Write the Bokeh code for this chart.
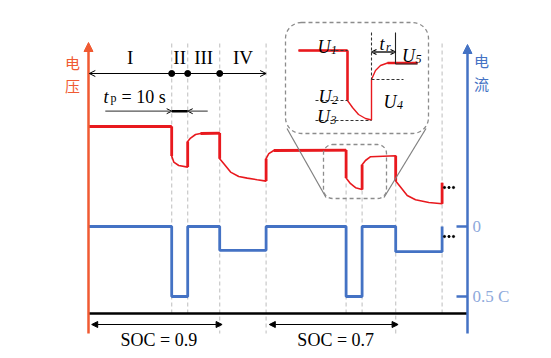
from bokeh.plotting import figure
from bokeh.models import (Range1d, Arrow, NormalHead, OpenHead, Label, BoxAnnotation)
from bokeh.embed import file_html
from bokeh.resources import INLINE

# ---------------- data ----------------
# phase boundaries (s): I, II, III, IV for SOC 0.9 then SOC 0.7
phase_edges = [0, 52, 62, 82, 111, 161, 171, 192, 221]
phase_names = ["I", "II", "III", "IV"]
soc_labels = ["SOC = 0.9", "SOC = 0.7"]

# current (C-rate, discharge plotted downward)
cur_t = [0, 52, 52, 62, 62, 82, 82, 111, 111, 161, 161, 171, 171, 192, 192, 221, 221]
cur_c = [0, 0, -0.5, -0.5, 0, 0, -0.17, -0.17, 0, 0, -0.5, -0.5, 0, 0, -0.18, -0.18, 0]
cur_ticks = [0, -0.5]
cur_tick_labels = ["0", "0.5 C"]

# voltage (V, schematic)
volt_t = [0, 52, 52, 53.3, 56.4, 62, 62, 63.8, 66.9, 70, 82,
          82, 84.6, 88.8, 93.9, 99.2, 105.4, 111,
          111, 112.7, 115.8, 161, 161, 163.8, 166.9, 171,
          171, 173.1, 176.3, 192, 192, 195, 199.2, 204.4, 212.7, 221, 221]
volt_v = [4.100, 4.100, 3.952, 3.922, 3.905, 3.897, 4.025, 4.042, 4.060, 4.065, 4.067,
          3.939, 3.914, 3.872, 3.850, 3.842, 3.834, 3.827,
          3.939, 3.964, 3.980, 3.982, 3.842, 3.814, 3.794, 3.785,
          3.909, 3.930, 3.949, 3.954, 3.827, 3.797, 3.755, 3.734, 3.720, 3.714, 3.819]

# inset (magnified pulse), inset-local coordinates
inset_x = [298, 347, 347, 352, 358, 365, 371, 371, 375, 380, 387, 417]
inset_y = [50, 50, 100, 107, 114, 118, 119.5, 79, 70, 65, 62.5, 62.5]

# ---------------- styles ----------------
RED = "#E8191E"
RED_AX = "#F05A32"
BLUE = "#4472C4"
LBLUE = "#8EA9DB"
GREY = "#C8C8C8"
DGREY = "#808080"
SERIF = "Liberation Serif"
CJK = "Noto Sans CJK SC"

PX_PER_T = 1.6
T0_PX = 88                      # where t = 0 sits
FRAME_L, FRAME_R = 56, 535
V_REF, V_PX, PX_PER_V = 4.10, 126, 200
C_PX, PX_PER_C = 226, 140
TOP, BOT = 8, 350

p = figure(width=545, height=352, output_backend="svg", toolbar_location=None,
           x_range=Range1d((FRAME_L - T0_PX) / PX_PER_T, (FRAME_R - T0_PX) / PX_PER_T),
           y_range=Range1d(V_REF - (BOT - V_PX) / PX_PER_V, V_REF + (V_PX - TOP) / PX_PER_V),
           x_axis_type=None, y_axis_type=None,
           min_border_left=FRAME_L, min_border_right=545 - FRAME_R, min_border_top=TOP,
           min_border_bottom=352 - BOT,
           outline_line_color=None, background_fill_color="white", border_fill_color="white")
p.extra_y_ranges = {"cur": Range1d(-(BOT - C_PX) / PX_PER_C, (C_PX - TOP) / PX_PER_C),
                    "py": Range1d(BOT, TOP)}
p.extra_x_ranges = {"px": Range1d(FRAME_L, FRAME_R)}

# ---- phase dashed lines ----
line_tops = [43, 43, 43, 43, 183, 190, 182, 43]
line_bots = [313, 313, 333, 333, 313, 313, 333, 313]
p.segment(x0=phase_edges[1:], y0=line_tops, x1=phase_edges[1:], y1=line_bots,
          y_range_name="py", line_color=GREY, line_width=1.2, line_dash="4 3")

# ---- bottom time line ----
p.segment(x0=[88], y0=[313], x1=[467], y1=[313], x_range_name="px", y_range_name="py",
          line_color="black", line_width=2.5)

# ---- voltage trace ----
p.line(volt_t, volt_v, line_color=RED, line_width=1.6)
tx0, ty0, tx1, ty1 = [], [], [], []
for i in range(len(volt_t) - 1):
    if volt_t[i] == volt_t[i + 1] or abs(volt_v[i] - volt_v[i + 1]) < 0.004:
        tx0.append(volt_t[i]); ty0.append(volt_v[i]); tx1.append(volt_t[i + 1]); ty1.append(volt_v[i + 1])
p.segment(x0=tx0, y0=ty0, x1=tx1, y1=ty1, line_color=RED, line_width=2.8)

# ---- current trace ----
p.line(cur_t, cur_c, y_range_name="cur", line_color=BLUE, line_width=2.8)

# continuation dots
p.scatter(x=[444, 448.5, 453] * 2, y=[187] * 3 + [236] * 3, x_range_name="px", y_range_name="py",
          size=2.2, color="black")

# ---- voltage axis (left) ----
p.add_layout(Arrow(end=NormalHead(size=9, fill_color=RED_AX, line_color=RED_AX),
                   x_start=88, y_start=333, x_end=88, y_end=42, x_range_name="px", y_range_name="py",
                   line_color=RED_AX, line_width=2.5))
for txt, y in [("电", 62), ("压", 84.5)]:
    p.add_layout(Label(x=72, y=y, text=txt, x_range_name="px", y_range_name="py",
                       text_align="center", text_baseline="middle", text_font=CJK,
                       text_font_size="15px", text_color=RED_AX))

# ---- current axis (right) ----
p.add_layout(Arrow(end=NormalHead(size=9, fill_color=BLUE, line_color=BLUE),
                   x_start=467, y_start=333, x_end=467, y_end=44, x_range_name="px", y_range_name="py",
                   line_color=BLUE, line_width=2.5))
p.segment(x0=[456] * len(cur_ticks), y0=cur_ticks, x1=[467] * len(cur_ticks), y1=cur_ticks,
          x_range_name="px", y_range_name="cur", line_color=BLUE, line_width=2.5)
for tick, lab in zip(cur_ticks, cur_tick_labels):
    p.add_layout(Label(x=472, y=tick, text=lab, x_range_name="px", y_range_name="cur",
                       text_align="left", text_baseline="middle", text_font=SERIF,
                       text_font_size="17px", text_color=LBLUE))
for txt, y in [("电", 60), ("流", 83)]:
    p.add_layout(Label(x=481, y=y, text=txt, x_range_name="px", y_range_name="py",
                       text_align="center", text_baseline="middle", text_font=CJK,
                       text_font_size="15px", text_color=BLUE))

# ---- phase arrow & labels ----
p.add_layout(Arrow(start=OpenHead(size=6, line_width=1), end=OpenHead(size=6, line_width=1),
                   x_start=phase_edges[0] + 0.5, x_end=phase_edges[4], y_start=73, y_end=73,
                   y_range_name="py", line_color="black", line_width=1.2))
p.scatter(x=phase_edges[1:4], y=[73] * 3, y_range_name="py", size=6, color="black")
for i, name in enumerate(phase_names):
    p.add_layout(Label(x=(phase_edges[i] + phase_edges[i + 1]) / 2, y=57, text=name,
                       y_range_name="py", text_align="center", text_baseline="middle",
                       text_font=SERIF, text_font_size="19px", text_color="black"))

# ---- t_p annotation ----
p.add_layout(Label(x=103, y=96, text="t", x_range_name="px", y_range_name="py",
                   text_font=SERIF, text_font_style="italic", text_font_size="18px",
                   text_baseline="alphabetic", text_color="black"))
p.add_layout(Label(x=110, y=97, text="p", x_range_name="px", y_range_name="py",
                   text_font=SERIF, text_font_size="12px", text_baseline="alphabetic", text_color="black"))
p.add_layout(Label(x=121, y=96, text="= 10 s", x_range_name="px", y_range_name="py",
                   text_font=SERIF, text_font_size="18px", text_baseline="alphabetic", text_color="black"))
p.add_layout(Arrow(end=OpenHead(size=5, line_width=1), x_start=10.5, x_end=phase_edges[1],
                   y_start=110.7, y_end=110.7, y_range_name="py", line_color="#555555", line_width=1.2))
p.add_layout(Arrow(end=OpenHead(size=5, line_width=1), x_start=74.5, x_end=phase_edges[2],
                   y_start=110.7, y_end=110.7, y_range_name="py", line_color="#555555", line_width=1.2))
p.segment(x0=[phase_edges[1]], y0=[110.7], x1=[phase_edges[2]], y1=[110.7], y_range_name="py",
          line_color="black", line_width=2.5)

# ---- SOC arrows ----
for (a, b), lab in zip([(phase_edges[0], phase_edges[3]), (phase_edges[4], phase_edges[7])], soc_labels):
    p.add_layout(Arrow(start=NormalHead(size=6, fill_color="black", line_color="black"),
                       end=NormalHead(size=6, fill_color="black", line_color="black"),
                       x_start=a + 2, x_end=b + 1.5, y_start=324, y_end=324, y_range_name="py",
                       line_color="black", line_width=1.2))
    p.add_layout(Label(x=(a + b) / 2 + 3, y=339, text=lab, y_range_name="py",
                       text_align="center", text_baseline="middle", text_font=SERIF,
                       text_font_size="18px", text_color="black"))

# ---- zoom boxes ----
for l, r, t, b, rad in [(323, 386, 144, 198, 9), (285, 428, 22, 133, 16)]:
    p.add_layout(BoxAnnotation(left=l, right=r, top=t, bottom=b, x_range_name="px", y_range_name="py",
                               fill_color=None, fill_alpha=0, line_color="#8C8C8C", line_alpha=1.0,
                               line_dash="4 3", line_width=1.3, border_radius=rad))
p.segment(x0=[286.5, 425.5], y0=[128, 128], x1=[325.5, 383.5], y1=[197, 197],
          x_range_name="px", y_range_name="py", line_color=DGREY, line_width=1.2)

# inset curve
p.line(inset_x, inset_y, x_range_name="px", y_range_name="py", line_color=RED, line_width=1.4)
p.segment(x0=[298, 347, 387], y0=[50, 50, 62.5], x1=[347, 347, 417], y1=[50, 100, 62.5],
          x_range_name="px", y_range_name="py", line_color=RED, line_width=2.5)
p.segment(x0=[330, 315, 315, 371, 371], y0=[50, 100, 120, 79, 32],
          x1=[347, 347, 371, 403, 371], y1=[50, 100, 120, 79, 79],
          x_range_name="px", y_range_name="py", line_color="#333333", line_width=1.1, line_dash="3 2")
p.segment(x0=[395, 395], y0=[32, 63.5], x1=[395, 417], y1=[63.5, 63.5],
          x_range_name="px", y_range_name="py", line_color="#222222", line_width=1.1)
p.add_layout(Arrow(start=OpenHead(size=5, line_width=1.2), end=OpenHead(size=5, line_width=1.2),
                   x_start=371, x_end=395, y_start=51.5, y_end=51.5, x_range_name="px", y_range_name="py",
                   line_color="#555555", line_width=1.8))

for main, sub, x, y in [("U", "1", 317, 46.5), ("U", "2", 318, 96.5), ("U", "3", 316.5, 116.5),
                        ("U", "4", 383, 101.5), ("U", "5", 401.5, 55), ("t", "r", 379, 43)]:
    p.add_layout(Label(x=x, y=y, text=main, x_range_name="px", y_range_name="py",
                       text_font=SERIF, text_font_style="italic", text_font_size="18px",
                       text_baseline="alphabetic", text_color="black"))
    p.add_layout(Label(x=x + (13.5 if main == "U" else 6.5), y=y + 3, text=sub, x_range_name="px",
                       y_range_name="py", text_font=SERIF, text_font_style="italic",
                       text_font_size="12px", text_baseline="alphabetic", text_color="black"))

open("out.html", "w").write(file_html(p, INLINE))
